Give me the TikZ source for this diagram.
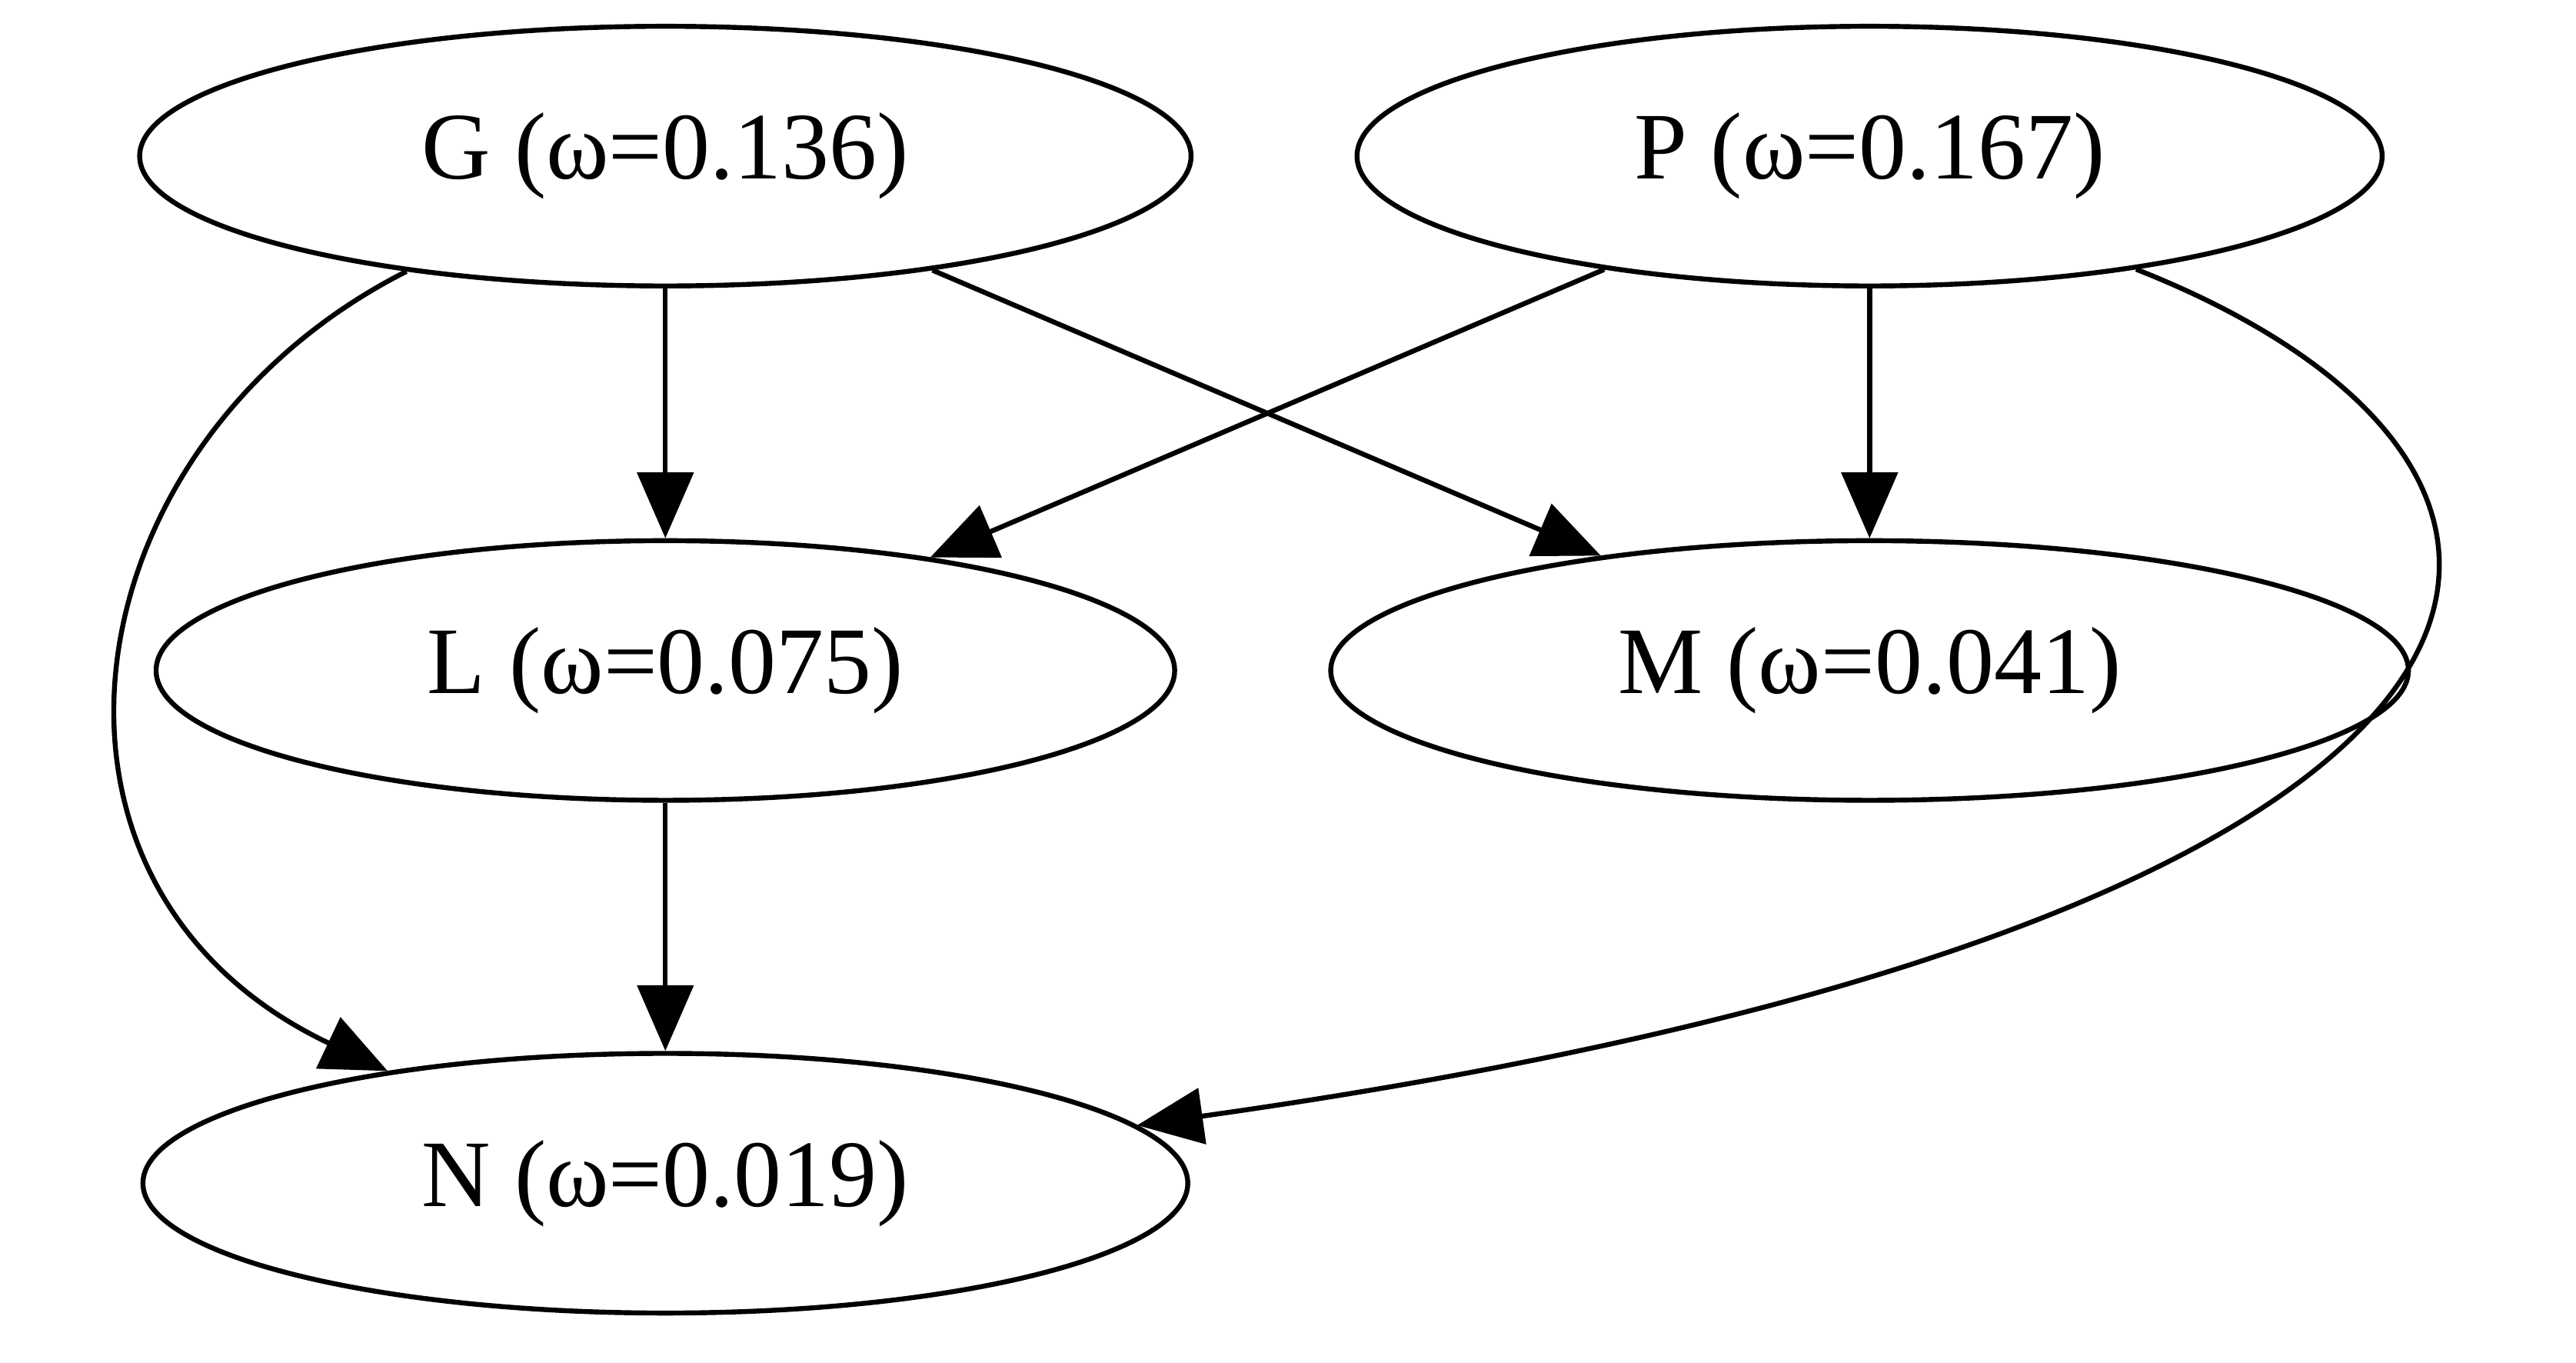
\documentclass[tikz,border=0pt]{standalone}
\usepackage{fontspec}
\setmainfont{Liberation Serif}
\usetikzlibrary{arrows.meta,shapes.geometric}
\begin{document}
\begin{tikzpicture}[x=1pt,y=-1pt,
  nd/.style={draw,ellipse,line width=3pt,minimum width=#1,minimum height=158pt,inner sep=0pt,font=\fontsize{58}{64}\selectfont},
  ar/.style={line width=3pt,-{Triangle[length=40pt,width=34pt]}}]
\useasboundingbox (0,0) rectangle (1568,829);
\node[nd=640pt] (G) at (405,95) {G (ω=0.136)};
\node[nd=624pt] (P) at (1138,95) {P (ω=0.167)};
\node[nd=620pt] (L) at (405,408) {L (ω=0.075)};
\node[nd=656pt] (M) at (1138,408) {M (ω=0.041)};
\node[nd=636pt] (N) at (405,720) {N (ω=0.019)};
\draw[ar] (G.south) -- (L.north);
\draw[ar] (P.south) -- (M.north);
\draw[ar] (L.south) -- (N.north);
\draw[ar] (G) -- (M);
\draw[ar] (P) -- (L);
\draw[ar] (G.-156) .. controls (40,270) and (0,540) .. (N.158);
\draw[ar] (P.-23) .. controls (1620,290) and (1580,560) .. (N.7);
\end{tikzpicture}
\end{document}
